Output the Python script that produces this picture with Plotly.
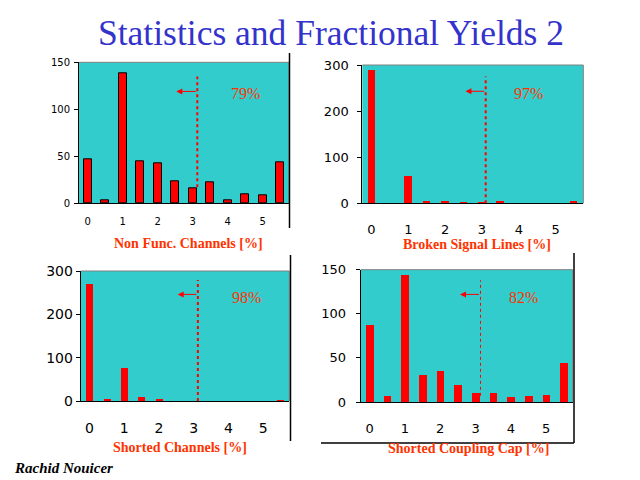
import plotly.graph_objects as go

# -----------------------------
# Data: number of modules per bin of failed fraction [%]
# -----------------------------
BINS = [0, 0.5, 1, 1.5, 2, 2.5, 3, 3.5, 4, 4.5, 5, 5.5]
X_TICKS = [0, 1, 2, 3, 4, 5]

NON_FUNC = [47, 3, 138, 45, 43, 23, 16, 22, 3, 10, 8, 44]
BROKEN_LINES = [289, 0, 59, 5, 5, 3, 3, 5, 0, 0, 0, 5]
SHORTED_CH = [270, 5, 76, 9, 5, 0, 0, 0, 0, 0, 0, 2]
SHORTED_CAP = [88, 7, 144, 31, 36, 20, 10, 11, 6, 7, 8, 44]

X_TITLES = ["Non Func. Channels [%]", "Broken Signal Lines [%]",
            "Shorted Channels [%]", "Shorted Coupling Cap [%]"]
YIELDS = ["79%", "97%", "98%", "82%"]
Y_MAX = [150, 300, 300, 150]
Y_TICKS = [[0, 50, 100, 150], [0, 100, 200, 300],
           [0, 100, 200, 300], [0, 50, 100, 150]]
CUT = [3.13, 3.10, 3.12, 3.14]

# -----------------------------
# Styling / layout (pixels of a 640x480 page)
# -----------------------------
W, H = 640, 480
TEAL = "#33cccc"
RED = "#ff0000"
LABEL_RED = "#ff3300"
SERIF = "Liberation Serif, Times New Roman, serif"
SANS = "DejaVu Sans, Verdana, sans-serif"


def px(x):
    return x / W


def py(y):
    return 1 - y / H


# box = (left, top, right, bottom) in px
PANELS = [
    dict(box=(79, 62.3, 289, 203.3), tick_size=10, bar_w=0.23, outline=True,
         xstand=9, ystand=2, title_xy=(188, 243),
         cut_y=(17, 135), cut_w=2, arrow=(2.53, 119), text=(4.52, 117)),
    dict(box=(362.3, 65, 583.3, 203.3), tick_size=13, bar_w=0.2, outline=False,
         xstand=14, ystand=6, title_xy=(477, 245),
         cut_y=(0, 275), cut_w=2, arrow=(2.55, 243), text=(4.26, 239)),
    dict(box=(80.7, 271, 289.3, 401), tick_size=14, bar_w=0.2, outline=False,
         xstand=14, ystand=0, title_xy=(180, 447),
         cut_y=(0, 279), cut_w=2, arrow=(2.54, 246), text=(4.52, 238)),
    dict(box=(360.7, 269.7, 572.7, 402), tick_size=13, bar_w=0.21, outline=False,
         xstand=14, ystand=7, title_xy=(468, 448),
         cut_y=(7, 138), cut_w=1, arrow=(2.56, 122), text=(4.36, 118)),
]

SERIES = [NON_FUNC, BROKEN_LINES, SHORTED_CH, SHORTED_CAP]

fig = go.Figure()
shapes = []
annotations = []

for i, (p, values) in enumerate(zip(PANELS, SERIES)):
    n = "" if i == 0 else str(i + 1)
    xa, ya = "x" + n, "y" + n
    l, t, r, b = p["box"]

    fig.add_trace(go.Bar(
        x=BINS, y=values, width=p["bar_w"],
        marker=dict(color=RED,
                    line=dict(color="black", width=1 if p["outline"] else 0)),
        xaxis=xa, yaxis=ya, showlegend=False,
    ))

    fig.update_layout({
        "xaxis" + n: dict(
            domain=[px(l), px(r)], anchor=ya, range=[-0.25, 5.75],
            tickvals=X_TICKS, ticks="", showgrid=False, zeroline=False,
            showline=True, linecolor="black", linewidth=1, automargin=False,
            tickfont=dict(family=SANS, size=p["tick_size"], color="black"),
            ticklabelstandoff=p["xstand"], fixedrange=True,
        ),
        "yaxis" + n: dict(
            domain=[py(b), py(t)], anchor=xa, range=[0, Y_MAX[i]],
            tickvals=Y_TICKS[i], ticks="outside", ticklen=4, tickcolor="black",
            showgrid=False, zeroline=False, automargin=False,
            showline=True, linecolor="black", linewidth=1,
            tickfont=dict(family=SANS, size=p["tick_size"], color="black"),
            ticklabelstandoff=p["ystand"], fixedrange=True,
        ),
    })

    # grey top / right frame of the plot area
    shapes.append(dict(type="line", xref=xa + " domain", yref=ya + " domain",
                       x0=0, x1=1, y0=1, y1=1, line=dict(color="#808080", width=1)))
    shapes.append(dict(type="line", xref=xa + " domain", yref=ya + " domain",
                       x0=1, x1=1, y0=0, y1=1, line=dict(color="#808080", width=1)))

    # dotted cut line
    shapes.append(dict(type="line", xref=xa, yref=ya,
                       x0=CUT[i], x1=CUT[i], y0=p["cut_y"][0], y1=p["cut_y"][1],
                       line=dict(color=RED, width=p["cut_w"], dash="dot")))

    # arrow pointing to the accepted side
    annotations.append(dict(
        xref=xa, yref=ya, axref=xa, ayref=ya,
        x=p["arrow"][0], y=p["arrow"][1], ax=CUT[i], ay=p["arrow"][1],
        text="", showarrow=True, arrowhead=2, arrowsize=1.2, arrowwidth=1,
        arrowcolor=RED,
    ))

    # yield label
    annotations.append(dict(
        xref=xa, yref=ya, x=p["text"][0], y=p["text"][1], text=YIELDS[i],
        xanchor="center", yanchor="middle", showarrow=False,
        font=dict(family=SERIF, size=16, color=LABEL_RED),
    ))

    # axis title
    annotations.append(dict(
        xref="paper", yref="paper", x=px(p["title_xy"][0]), y=py(p["title_xy"][1]),
        xanchor="center", yanchor="middle",
        text="<b>" + X_TITLES[i] + "</b>", showarrow=False,
        font=dict(family=SERIF, size=14, color=LABEL_RED),
    ))

# black separator lines of the slide
for x0, y0, x1, y1 in [(289.5, 53, 289.5, 228), (290.5, 255, 290.5, 441),
                       (574, 253, 574, 443), (321, 443, 574, 443)]:
    shapes.append(dict(type="line", xref="paper", yref="paper",
                       x0=px(x0), y0=py(y0), x1=px(x1), y1=py(y1),
                       line=dict(color="black", width=1.5)))

# slide title and author
annotations.append(dict(
    xref="paper", yref="paper", x=px(331), y=py(33),
    xanchor="center", yanchor="middle",
    text="Statistics and Fractional Yields 2", showarrow=False,
    font=dict(family=SERIF, size=35.5, color="#3333cc"),
))
annotations.append(dict(
    xref="paper", yref="paper", x=px(12), y=py(468),
    xanchor="left", yanchor="middle",
    text="<b><i>Rachid Nouicer</i></b>", showarrow=False,
    font=dict(family=SERIF, size=15, color="black"),
))

fig.update_layout(
    width=W, height=H, autosize=False,
    margin=dict(l=0, r=0, t=0, b=0, pad=0),
    paper_bgcolor="white", plot_bgcolor=TEAL,
    bargap=0, shapes=shapes, annotations=annotations,
)

# page body margin would push the 640x480 figure off the window
fig.write_html("out.html", config={"displayModeBar": False},
               post_script="document.body.style.margin = '0';")
